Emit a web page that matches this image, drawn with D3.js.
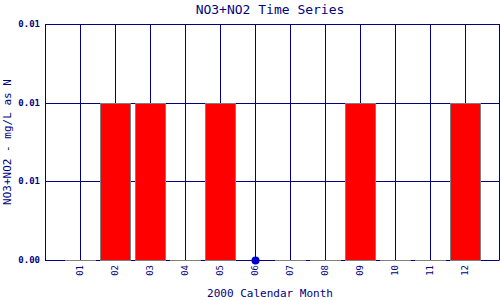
<!DOCTYPE html>
<html>
<head>
<meta charset="utf-8">
<script src="https://cdn.jsdelivr.net/npm/d3@7"></script>
<style>
  body { margin: 0; background: #fff; }
  svg text { font-family: "DejaVu Sans Mono", "Liberation Mono", monospace; fill: #000080; }
</style>
</head>
<body>
<svg id="chart" width="500" height="300"></svg>
<script>
// data
const months = ["01", "02", "03", "04", "05", "06", "07", "08", "09", "10", "11", "12"];
const values = [0, 0.01, 0.01, 0, 0.01, null, 0, 0, 0.01, 0, 0, 0.01];
const markerMonths = ["06"];
const yTicks = [0, 0.005, 0.01, 0.015];

const navy = "#000080";
const svg = d3.select("#chart");
const plotL = 45, plotR = 499, plotT = 24, plotB = 260;

const x = d3.scaleLinear().domain([0, 13]).range([plotL, plotR + 1]);
const y = d3.scaleLinear().domain([0, 0.015]).range([plotB, plotT]);
const monthX = m => x(+m);

// title
svg.append("text")
  .attr("x", 270).attr("y", 14)
  .attr("text-anchor", "middle")
  .style("font-size", "13px")
  .text("NO3+NO2 Time Series");

//gridlines
svg.append("g").selectAll("line")
  .data(yTicks)
  .join("line")
  .attr("x1", plotL).attr("x2", plotR)
  .attr("y1", d => Math.round(y(d)) + 0.5).attr("y2", d => Math.round(y(d)) + 0.5)
  .attr("stroke", navy);

svg.append("g").selectAll("line")
  .data(months)
  .join("line")
  .attr("x1", d => monthX(d) + 0.5).attr("x2", d => monthX(d) + 0.5)
  .attr("y1", plotT).attr("y2", plotB)
  .attr("stroke", navy);

// frame left/right
svg.append("line")
  .attr("x1", plotL + 0.5).attr("x2", plotL + 0.5)
  .attr("y1", plotT).attr("y2", plotB + 0.5)
  .attr("stroke", navy);
svg.append("line")
  .attr("x1", plotR + 0.5).attr("x2", plotR + 0.5)
  .attr("y1", plotT).attr("y2", plotB + 0.5)
  .attr("stroke", navy);

// bars
const barW = 30;
const barData = months.map((m, i) => ({ m, v: values[i] })).filter(d => d.v !== null);
svg.append("g").selectAll("rect")
  .data(barData.filter(d => d.v > 0))
  .join("rect")
  .attr("x", d => monthX(d.m) - barW / 2 + 0.5)
  .attr("width", barW)
  .attr("y", d => Math.round(y(d.v)) + 0.5)
  .attr("height", d => Math.round(y(0)) - Math.round(y(d.v)))
  .attr("fill", "#ff0000")
  .attr("stroke", "#808080")
  .attr("stroke-width", 1);

// zero-height bars show only their outline
svg.append("g").selectAll("line")
  .data(barData.filter(d => d.v === 0))
  .join("line")
  .attr("x1", d => monthX(d.m) - barW / 2)
  .attr("x2", d => monthX(d.m) + barW / 2 + 1)
  .attr("y1", Math.round(y(0)) + 0.5)
  .attr("y2", Math.round(y(0)) + 0.5)
  .attr("stroke", "#808080");

// markers
svg.append("g").selectAll("circle")
  .data(markerMonths)
  .join("circle")
  .attr("cx", d => monthX(d) + 0.5)
  .attr("cy", y(0) + 0.5)
  .attr("r", 4)
  .attr("fill", "#0000cc");

// y tick labels
svg.append("g").selectAll("text")
  .data(yTicks)
  .join("text")
  .attr("x", 40)
  .attr("y", d => y(d) + 3)
  .attr("text-anchor", "end")
  .style("font-size", "9px")
  .style("font-weight", "bold")
  .text(d => d.toFixed(2));

// x tick labels
svg.append("g").selectAll("text")
  .data(months)
  .join("text")
  .attr("transform", d => `translate(${monthX(d) + 3},265) rotate(-90)`)
  .attr("text-anchor", "end")
  .style("font-size", "9px")
  .text(d => d);

// axis titles
svg.append("text")
  .attr("x", 270).attr("y", 297)
  .attr("text-anchor", "middle")
  .style("font-size", "11px")
  .text("2000 Calendar Month");

svg.append("text")
  .attr("transform", "translate(11,142) rotate(-90)")
  .attr("text-anchor", "middle")
  .style("font-size", "11px")
  .text("NO3+NO2 - mg/L as N");
</script>
</body>
</html>
